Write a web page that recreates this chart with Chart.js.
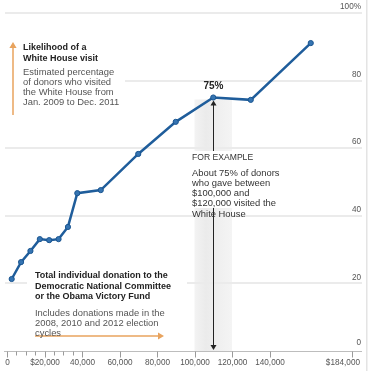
<!DOCTYPE html>
<html><head><meta charset="utf-8">
<script src="https://cdn.jsdelivr.net/npm/chart.js@4"></script>
<style>html,body{margin:0;padding:0;background:#fff;}canvas{display:block}</style>
</head><body>
<canvas id="c" width="370" height="371"></canvas>
<script>
// ---- data ----
const donationMidpoints = [2500, 7500, 12500, 17500, 22500, 27500, 32500, 37500, 50000, 70000, 90000, 110000, 130000, 162000];
const visitPercent = [21.3, 26.3, 29.6, 33.1, 32.8, 33.1, 36.7, 46.7, 47.6, 58.3, 67.8, 75, 74.3, 91.1];
const xMajorTicks = [0, 20000, 40000, 60000, 80000, 100000, 120000, 140000, 184000];
const xMajorLabels = ['0', '$20,000', '40,000', '60,000', '80,000', '100,000', '120,000', '140,000', '$184,000'];
const xMinorTicks = [5000, 10000, 15000, 25000, 30000, 35000];
const yTicks = [0, 20, 40, 60, 80, 100];
const yTickLabels = ['0', '20', '40', '60', '80', '100%'];
const highlightRange = [100000, 120000];
const highlightDonation = 110000;
const highlightPercent = 75;
const highlightLabel = '75%';
const yTitle = ['Likelihood of a', 'White House visit'];
const yNote = ['Estimated percentage', 'of donors who visited', 'the White House from', 'Jan. 2009 to Dec. 2011'];
const xTitle = ['Total individual donation to the', 'Democratic National Committee', 'or the Obama Victory Fund'];
const xNote = ['Includes donations made in the', '2008, 2010 and 2012 election', 'cycles'];
const exampleHead = 'FOR EXAMPLE';
const exampleNote = ['About 75% of donors', 'who gave between', '$100,000 and', '$120,000 visited the', 'White House'];

const FONT = '"Liberation Sans", Arial, Helvetica, sans-serif';
const ORANGE = '#e8a35e';

function arrowHead(ctx, x, y, dir, size, color) {
  ctx.fillStyle = color;
  ctx.beginPath();
  if (dir === 'up') { ctx.moveTo(x, y); ctx.lineTo(x - size * 0.6, y + size); ctx.lineTo(x + size * 0.6, y + size); }
  else if (dir === 'down') { ctx.moveTo(x, y); ctx.lineTo(x - size * 0.6, y - size); ctx.lineTo(x + size * 0.6, y - size); }
  else { ctx.moveTo(x, y); ctx.lineTo(x - size, y - size * 0.6); ctx.lineTo(x - size, y + size * 0.6); }
  ctx.closePath(); ctx.fill();
}

const deco = {
  id: 'deco',
  beforeDatasetsDraw(chart) {
    const { ctx, scales: { x, y } } = chart;
    ctx.save();
    // right frame
    ctx.fillStyle = '#e4e4e4';
    ctx.fillRect(366, 0, 1.5, 371);
    // highlight band
    const bx0 = x.getPixelForValue(highlightRange[0]);
    const bx1 = x.getPixelForValue(highlightRange[1]);
    const by0 = y.getPixelForValue(highlightPercent) + 2;
    const by1 = y.getPixelForValue(0);
    const g = ctx.createLinearGradient(bx0, 0, bx1, 0);
    g.addColorStop(0, '#f3f3f3');
    g.addColorStop(0.3, '#ebebeb');
    g.addColorStop(1, '#f4f4f4');
    ctx.fillStyle = g;
    ctx.fillRect(bx0, by0, bx1 - bx0, by1 - by0);
    // gridlines
    yTicks.forEach(v => {
      if (v === 0) return;
      const py = Math.round(y.getPixelForValue(v));
      ctx.fillStyle = '#ebebeb';
      ctx.fillRect(5, py - 1, 357, 2);
    });
    // x axis line
    const ay = Math.round(y.getPixelForValue(0)) + 0.5;
    ctx.strokeStyle = '#bdbdbd'; ctx.lineWidth = 1;
    ctx.beginPath(); ctx.moveTo(4, ay); ctx.lineTo(362, ay); ctx.stroke();
    // ticks
    ctx.strokeStyle = '#9a9a9a';
    xMajorTicks.forEach(v => {
      const px = Math.round(x.getPixelForValue(v)) + 0.5;
      ctx.beginPath(); ctx.moveTo(px, ay); ctx.lineTo(px, ay + 6); ctx.stroke();
    });
    xMinorTicks.forEach(v => {
      const px = Math.round(x.getPixelForValue(v)) + 0.5;
      ctx.beginPath(); ctx.moveTo(px, ay); ctx.lineTo(px, ay + 4); ctx.stroke();
    });
    // x tick labels
    ctx.fillStyle = '#555';
    ctx.font = '8.2px ' + FONT;
    ctx.textBaseline = 'middle';
    xMajorTicks.forEach((v, i) => {
      const px = x.getPixelForValue(v);
      if (i === xMajorTicks.length - 1) { ctx.textAlign = 'right'; ctx.fillText(xMajorLabels[i], px + 8, 363); }
      else { ctx.textAlign = 'center'; ctx.fillText(xMajorLabels[i], px + 0.5, 363); }
    });
    // y tick labels
    ctx.textAlign = 'right';
    yTicks.forEach((v, i) => {
      const py = y.getPixelForValue(v);
      ctx.fillText(yTickLabels[i], 361, py - (v === 0 ? 8 : 6));
    });
    // black example arrow
    const hx = Math.round(x.getPixelForValue(highlightDonation)) + 0.5;
    const hy = y.getPixelForValue(highlightPercent);
    ctx.strokeStyle = '#222'; ctx.lineWidth = 1;
    ctx.beginPath(); ctx.moveTo(hx, hy + 6); ctx.lineTo(hx, by1 - 5); ctx.stroke();
    arrowHead(ctx, hx, hy + 3, 'up', 5, '#222');
    arrowHead(ctx, hx, by1 - 1, 'down', 5, '#222');
    // white boxes behind annotations
    ctx.fillStyle = '#fff';
    ctx.fillRect(0, 77, 125, 8);
    ctx.fillRect(27, 279, 160, 8);
    ctx.fillRect(189, 151, 100, 57);
    // orange arrows
    ctx.strokeStyle = ORANGE; ctx.lineWidth = 1.5;
    ctx.beginPath(); ctx.moveTo(13, 115); ctx.lineTo(13, 47); ctx.stroke();
    arrowHead(ctx, 13, 42, 'up', 6, ORANGE);
    ctx.beginPath(); ctx.moveTo(35, 336); ctx.lineTo(159, 336); ctx.stroke();
    arrowHead(ctx, 164, 336, 'right', 6, ORANGE);
    // annotation texts
    ctx.textAlign = 'left';
    ctx.textBaseline = 'middle';
    ctx.fillStyle = '#222';
    ctx.font = 'bold 9px ' + FONT;
    yTitle.forEach((t, i) => ctx.fillText(t, 23, 48 + i * 10.5));
    xTitle.forEach((t, i) => ctx.fillText(t, 35, 276 + i * 10.5));
    ctx.fillStyle = '#555';
    ctx.font = '9.4px ' + FONT;
    yNote.forEach((t, i) => ctx.fillText(t, 23, 72 + i * 10.3));
    xNote.forEach((t, i) => ctx.fillText(t, 35, 313 + i * 10.3));
    ctx.fillStyle = '#333';
    ctx.font = '8.6px ' + FONT;
    ctx.fillText(exampleHead, 192, 158);
    ctx.font = '9.4px ' + FONT;
    exampleNote.forEach((t, i) => ctx.fillText(t, 192, 173 + i * 10.3));
    // highlight label
    ctx.fillStyle = '#222';
    ctx.font = 'bold 10px ' + FONT;
    ctx.textAlign = 'center';
    ctx.fillText(highlightLabel, hx, hy - 11);
    ctx.restore();
  }
};

new Chart(document.getElementById('c'), {
  type: 'line',
  data: {
    datasets: [{
      data: donationMidpoints.map((d, i) => ({ x: d, y: visitPercent[i] })),
      borderColor: '#1f5d9b',
      borderWidth: 2.5,
      pointRadius: 2.6,
      pointBackgroundColor: '#3574b2',
      pointBorderColor: '#1a5590',
      pointBorderWidth: 1,
      tension: 0,
      clip: false
    }]
  },
  options: {
    responsive: false,
    animation: false,
    devicePixelRatio: 1,
    layout: { padding: { left: 7, right: 18, top: 13, bottom: 20 } },
    plugins: { legend: { display: false }, tooltip: { enabled: false } },
    scales: {
      x: { type: 'linear', min: 0, max: 184000, display: false },
      y: { type: 'linear', min: 0, max: 100, display: false }
    }
  },
  plugins: [deco]
});
</script>
</body></html>
